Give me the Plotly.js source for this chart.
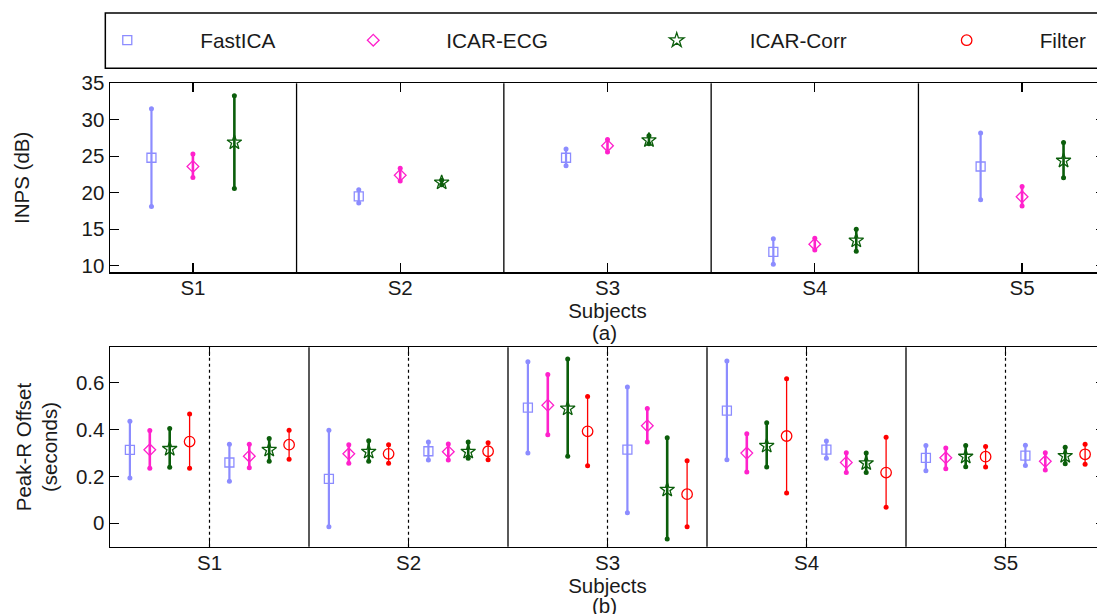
<!DOCTYPE html>
<html>
<head>
<meta charset="utf-8">
<script src="https://cdn.plot.ly/plotly-3.0.1.min.js"></script>
<style>
html, body { margin: 0; padding: 0; overflow: hidden; background: #fff; }
#chart { width: 1120px; height: 614px; }
</style>
</head>
<body>
<div id="chart"></div>
<script>
// ---------- data ----------
const subjects = ['S1', 'S2', 'S3', 'S4', 'S5'];
const methods = ['FastICA', 'ICAR-ECG', 'ICAR-Corr', 'Filter'];

// (a) INPS (dB): mean, upper and lower end of the error bar per subject
const inpsFastICA   = [24.8, 19.5, 24.8, 11.9, 23.6];
const inpsFastICAHi = [31.5, 20.4, 26.0, 13.7, 28.2];
const inpsFastICALo = [18.1, 18.6, 23.7, 10.2, 19.05];
const inpsECG       = [23.6, 22.4, 26.45, 12.95, 19.45];
const inpsECGHi     = [25.3, 23.35, 27.3, 13.75, 20.85];
const inpsECGLo     = [22.1, 21.6, 25.6, 12.15, 18.2];
const inpsCorr      = [26.9, 21.4, 27.2, 13.45, 24.4];
const inpsCorrHi    = [33.3, 21.7, 27.8, 15.0, 26.9];
const inpsCorrLo    = [20.6, 21.1, 26.7, 12.0, 22.05];

// (b) Peak-R offset (s): two groups per subject (left / right of dotted line)
// order: S1a, S1b, S2a, S2b, S3a, S3b, S4a, S4b, S5a, S5b
const peakFastICA   = [0.313, 0.259, 0.189, 0.307, 0.493, 0.314, 0.480, 0.314, 0.279, 0.288];
const peakFastICAHi = [0.435, 0.337, 0.397, 0.346, 0.688, 0.581, 0.692, 0.351, 0.331, 0.333];
const peakFastICALo = [0.193, 0.179, -0.015, 0.270, 0.300, 0.045, 0.271, 0.277, 0.224, 0.246];
const peakECG       = [0.313, 0.286, 0.296, 0.305, 0.503, 0.416, 0.299, 0.259, 0.279, 0.264];
const peakECGHi     = [0.395, 0.337, 0.335, 0.338, 0.634, 0.489, 0.382, 0.301, 0.321, 0.301];
const peakECGLo     = [0.235, 0.237, 0.256, 0.270, 0.377, 0.346, 0.218, 0.216, 0.232, 0.227];
const peakCorr      = [0.317, 0.313, 0.305, 0.305, 0.489, 0.143, 0.330, 0.256, 0.284, 0.287];
const peakCorrHi    = [0.404, 0.361, 0.352, 0.346, 0.700, 0.364, 0.428, 0.299, 0.331, 0.324];
const peakCorrLo    = [0.239, 0.264, 0.264, 0.277, 0.286, -0.067, 0.240, 0.216, 0.241, 0.254];
const peakFilter    = [0.348, 0.335, 0.296, 0.307, 0.392, 0.124, 0.372, 0.216, 0.284, 0.294];
const peakFilterHi  = [0.466, 0.397, 0.335, 0.343, 0.540, 0.266, 0.616, 0.367, 0.327, 0.337];
const peakFilterLo  = [0.235, 0.273, 0.256, 0.271, 0.245, -0.015, 0.129, 0.068, 0.240, 0.252];

const yTicksA = [10, 15, 20, 25, 30, 35];
const yTicksB = [0, 0.2, 0.4, 0.6];
const yTickTextB = ['0', '0.2', '0.4', '0.6'];

// ---------- styles ----------
const styles = [
  {color: '#8c8cff', symbol: 'square-open', size: 9, lw: 2.2},
  {color: '#ff22cc', symbol: 'diamond-open', size: 9, lw: 2.6},
  {color: '#0b5e0b', symbol: 'star-open', size: 11, lw: 2.6},
  {color: '#ff0000', symbol: 'circle-open', size: 10.5, lw: 1.3}
];
const legendIds = ['legend', 'legend2', 'legend3', 'legend4'];
const legendX = [-0.056, 0.1912, 0.4962, 0.7876];

const inpsSets = [
  [inpsFastICA, inpsFastICAHi, inpsFastICALo],
  [inpsECG, inpsECGHi, inpsECGLo],
  [inpsCorr, inpsCorrHi, inpsCorrLo]
];
const peakSets = [
  [peakFastICA, peakFastICAHi, peakFastICALo],
  [peakECG, peakECGHi, peakECGLo],
  [peakCorr, peakCorrHi, peakCorrLo],
  [peakFilter, peakFilterHi, peakFilterLo]
];

const traces = [];

function addSeries(m, xs, mean, hi, lo, xa, ya, legend) {
  const st = styles[m];
  const ex = [], ey = [];
  xs.forEach((x, i) => { ex.push(x, x, null); ey.push(lo[i], hi[i], null); });
  traces.push({
    type: 'scatter', mode: 'lines+markers', x: ex, y: ey, xaxis: xa, yaxis: ya,
    line: {color: st.color, width: st.lw},
    marker: {color: st.color, size: 5, symbol: 'circle'},
    showlegend: false, hoverinfo: 'skip', legend: legendIds[m]
  });
  traces.push({
    type: 'scatter', mode: 'markers', x: xs, y: mean, xaxis: xa, yaxis: ya,
    name: methods[m], showlegend: legend, legend: legendIds[m],
    marker: {color: st.color, size: st.size, symbol: st.symbol, line: {color: st.color, width: 1.3}}
  });
}

// panel (a): three methods around each subject tick
inpsSets.forEach((s, m) => {
  const xs = subjects.map((_, i) => i + 1 + (m - 1) * 0.2);
  addSeries(m, xs, s[0], s[1], s[2], 'x', 'y', true);
});
// panel (b): two groups of four per subject
peakSets.forEach((s, m) => {
  const xs = [];
  subjects.forEach((_, i) => {
    xs.push(i + 1 - 0.5 + 0.1 * (m + 1));
    xs.push(i + 1 + 0.1 * (m + 1));
  });
  addSeries(m, xs, s[0], s[1], s[2], 'x2', 'y2', m === 3);
});

// ---------- separators ----------
const shapes = [];
subjects.forEach((_, i) => {
  if (i < subjects.length - 1) {
    shapes.push({type: 'line', xref: 'x', yref: 'y domain', x0: i + 1.5, x1: i + 1.5, y0: 0, y1: 1,
      line: {color: '#000', width: 1.3}});
    shapes.push({type: 'line', xref: 'x2', yref: 'y2 domain', x0: i + 1.5, x1: i + 1.5, y0: 0, y1: 1,
      line: {color: '#000', width: 1.3}});
  }
  shapes.push({type: 'line', xref: 'x2', yref: 'y2 domain', x0: i + 1, x1: i + 1, y0: 0, y1: 1,
    line: {color: '#000', width: 1.2, dash: 'dot'}});
});
// legend box
shapes.push({type: 'rect', xref: 'paper', yref: 'paper', x0: -0.0047, x1: 1.0, y0: 1.0219, y1: 1.1255,
  line: {color: '#000', width: 1.5}, fillcolor: 'rgba(0,0,0,0)'});

const font = {family: 'Liberation Sans, Arial, sans-serif', size: 20.5, color: '#1a1a1a'};
const legendFont = {family: 'Liberation Sans, Arial, sans-serif', size: 20.8, color: '#1a1a1a'};

const axisCommon = {
  showline: true, linecolor: '#000', linewidth: 1.5, mirror: 'ticks',
  ticks: 'inside', ticklen: 9, tickwidth: 1.2, tickcolor: '#000',
  showgrid: false, zeroline: false, automargin: false, fixedrange: true,
  tickfont: font
};

const layout = {
  width: 1120, height: 614,
  margin: {l: 110, r: 15, t: 80, b: 0, autoexpand: false},
  paper_bgcolor: '#fff', plot_bgcolor: '#fff',
  font: font,
  showlegend: true,
  xaxis: Object.assign({}, axisCommon, {
    domain: [0, 1], anchor: 'y', range: [0.6, 5.4],
    tickvals: subjects.map((_, i) => i + 1), ticktext: subjects, ticklabelstandoff: -3,
    title: {text: 'Subjects', font: font, standoff: 5}
  }),
  yaxis: Object.assign({}, axisCommon, {
    domain: [0.6399, 0.9938], anchor: 'x', range: [9.1, 35],
    tickvals: yTicksA, ticktext: yTicksA.map(String),
    title: {text: 'INPS (dB)', font: font, standoff: 46}
  }),
  xaxis2: Object.assign({}, axisCommon, {
    domain: [0, 1], anchor: 'y2', range: [0.5, 5.5],
    tickvals: subjects.map((_, i) => i + 1), ticktext: subjects, ticklabelstandoff: -3,
    title: {text: 'Subjects', font: font, standoff: 3}
  }),
  yaxis2: Object.assign({}, axisCommon, {
    domain: [0.1260, 0.4994], anchor: 'x2', range: [-0.1, 0.75],
    tickvals: yTicksB, ticktext: yTickTextB,
    title: {text: 'Peak-R Offset<br>(seconds)', font: font, standoff: 12}
  }),
  shapes: shapes,
  annotations: [
    {text: '(a)', xref: 'paper', yref: 'paper', x: 0.497, y: 0.5268, showarrow: false,
      xanchor: 'center', yanchor: 'middle', font: font},
    {text: '(b)', xref: 'paper', yref: 'paper', x: 0.497, y: 0.0168, showarrow: false,
      xanchor: 'center', yanchor: 'middle', font: font}
  ]
};
legendIds.forEach((id, m) => {
  layout[id] = {
    orientation: 'h', x: legendX[m], y: 1.0736, xanchor: 'left', yanchor: 'middle',
    font: legendFont, bgcolor: 'rgba(0,0,0,0)', borderwidth: 0, itemwidth: 136
  };
});

Plotly.newPlot('chart', traces, layout, {displayModeBar: false, staticPlot: true});
</script>
</body>
</html>
